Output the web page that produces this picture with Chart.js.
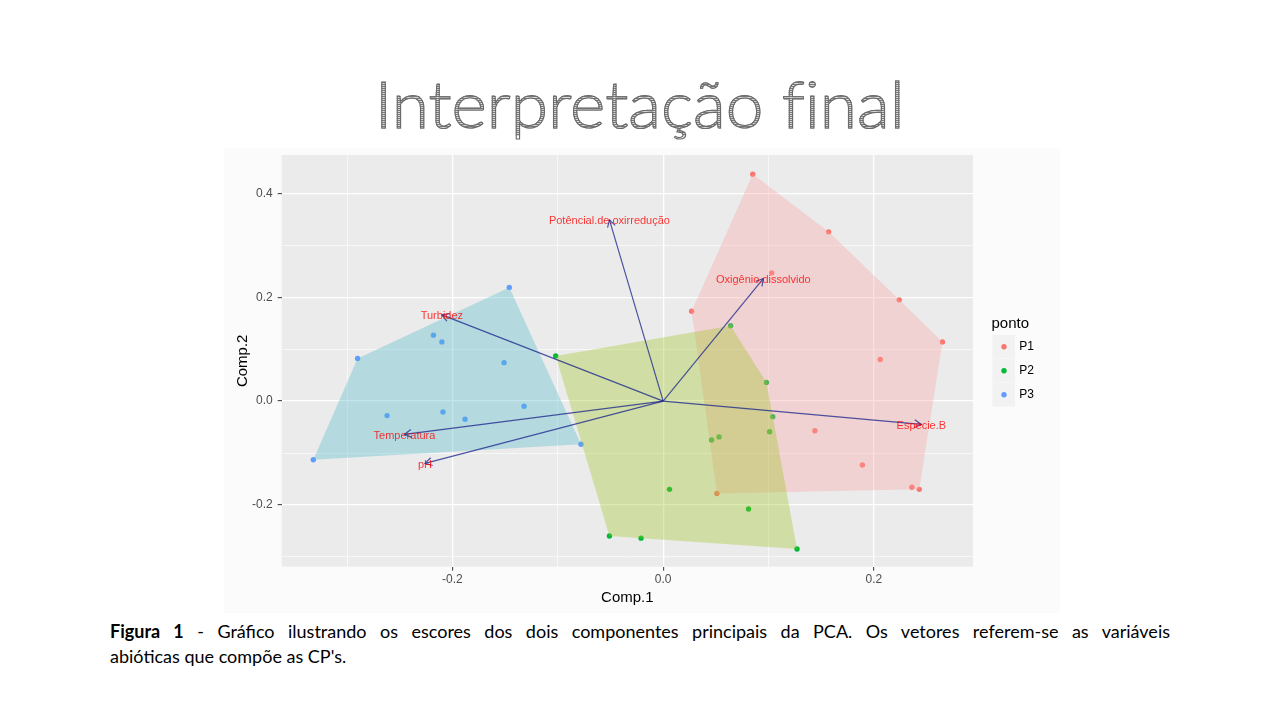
<!DOCTYPE html>
<html><head><meta charset="utf-8">
<script src="https://cdn.jsdelivr.net/npm/chart.js@4.4.1/dist/chart.umd.min.js"></script>
<style>
html,body{margin:0;padding:0;background:#fff;width:1280px;height:720px;overflow:hidden;}
#title{position:absolute;left:0;width:1280px;top:70px;text-align:center;line-height:1;}
#title span{display:inline-block;font-family:Lato,'Open Sans',sans-serif;font-size:66px;font-weight:300;font-variant-ligatures:none;
 background:repeating-linear-gradient(to bottom,#7a7a7a 0 1px,#dcdcdc 1px 2px);
 -webkit-background-clip:text;background-clip:text;color:transparent;-webkit-text-stroke:1.1px #6a6a6a;transform-origin:center;}
#box{position:absolute;left:224px;top:148px;width:836px;height:465px;background:#fbfbfb;}
#cap{position:absolute;left:110px;top:619px;width:1060px;font-family:Lato,'Open Sans',sans-serif;font-size:18px;line-height:25px;color:#000;}
#cap .l1{text-align:justify;text-align-last:justify;white-space:nowrap;}
</style></head>
<body>
<div id="title"><span id="tt">Interpretação final</span></div>
<div id="box"><canvas id="c" width="836" height="465"></canvas></div>
<div id="cap">
<div class="l1" id="l1"><b>Figura 1</b> - Gráfico ilustrando os escores dos dois componentes principais da PCA. Os vetores referem-se as variáveis</div>
<div>abióticas que compõe as CP's.</div>
</div>
<script>
// ---- data ----
const groups = ["P1","P2","P3"];
const p1X = [0.085, 0.157, 0.103, 0.027, 0.224, 0.265, 0.206, 0.144, 0.189, 0.236, 0.243, 0.051];
const p1Y = [0.437, 0.326, 0.247, 0.173, 0.195, 0.114, 0.080, -0.057, -0.123, -0.166, -0.170, -0.178];
const p2X = [-0.102, 0.064, 0.098, 0.104, 0.101, 0.046, 0.053, 0.006, 0.081, -0.051, -0.021, 0.127];
const p2Y = [0.087, 0.145, 0.036, -0.030, -0.059, -0.075, -0.069, -0.170, -0.208, -0.260, -0.264, -0.285];
const p3X = [-0.146, -0.290, -0.218, -0.210, -0.151, -0.262, -0.209, -0.188, -0.132, -0.078, -0.332];
const p3Y = [0.219, 0.082, 0.127, 0.114, 0.074, -0.028, -0.021, -0.035, -0.010, -0.083, -0.113];
const varNames = ["Potêncial.de.oxirredução","Turbidez","Oxigênio.dissolvido","Especie.B","Temperatura","pH"];
const loadX = [-0.051, -0.210, 0.095, 0.245, -0.2455, -0.226];
const loadY = [0.349, 0.166, 0.236, -0.045, -0.064, -0.120];
const xRange = [-0.362, 0.294];
const yRange = [-0.319, 0.474];

// ---- styles ----
const pointColors = ["#F8766D","#00BA38","#619CFF"];
const hullColors = ["rgba(249,164,164,0.35)","rgba(158,198,35,0.35)","rgba(78,186,204,0.35)"];
const seriesX = [p1X,p2X,p3X], seriesY = [p1Y,p2Y,p3Y];

// title fit
(function(){const s=document.getElementById('tt');const w=s.getBoundingClientRect().width;s.style.transform='scaleX('+(530/w)+')';})();

const FONT = "'Liberation Sans', Arial, sans-serif";
Chart.defaults.font.family = FONT;

function hull(pts){
  pts = pts.slice().sort((a,b)=>a.x-b.x||a.y-b.y);
  const cr=(o,a,b)=>(a.x-o.x)*(b.y-o.y)-(a.y-o.y)*(b.x-o.x);
  const lo=[],up=[];
  for(const p of pts){while(lo.length>=2&&cr(lo[lo.length-2],lo[lo.length-1],p)<=0)lo.pop();lo.push(p);}
  for(let i=pts.length-1;i>=0;i--){const p=pts[i];while(up.length>=2&&cr(up[up.length-2],up[up.length-1],p)<=0)up.pop();up.push(p);}
  lo.pop();up.pop();return lo.concat(up);
}
const isMajor = v => Math.round(v*10)%2===0;

const datasets = groups.map((g,i)=>({
  label:g,
  data: seriesX[i].map((x,j)=>({x:x,y:seriesY[i][j]})),
  backgroundColor: pointColors[i], borderColor: pointColors[i], borderWidth:0,
  pointRadius:2.7, pointHoverRadius:2.7
}));

const panelBg = {id:'panelBg', beforeDraw(ch){const {ctx,chartArea:a}=ch;ctx.save();ctx.fillStyle='#EBEBEB';ctx.fillRect(a.left,a.top,a.right-a.left,a.bottom-a.top);ctx.restore();}};

const overlay = {id:'overlay', afterDatasetsDraw(ch){
  const {ctx,chartArea:a,scales:{x:xs,y:ys}}=ch;
  ctx.save();
  ctx.beginPath();ctx.rect(a.left,a.top,a.right-a.left,a.bottom-a.top);ctx.clip();
  // hulls
  datasets.forEach((d,i)=>{
    const h=hull(d.data);
    ctx.beginPath();
    h.forEach((p,k)=>{const px=xs.getPixelForValue(p.x),py=ys.getPixelForValue(p.y);k?ctx.lineTo(px,py):ctx.moveTo(px,py);});
    ctx.closePath();ctx.fillStyle=hullColors[i];ctx.fill();
  });
  // arrows
  const ox=xs.getPixelForValue(0), oy=ys.getPixelForValue(0);
  ctx.strokeStyle='rgba(30,40,140,0.78)';ctx.lineWidth=1.2;
  varNames.forEach((n,i)=>{
    const tx=xs.getPixelForValue(loadX[i]),ty=ys.getPixelForValue(loadY[i]);
    ctx.beginPath();ctx.moveTo(ox,oy);ctx.lineTo(tx,ty);ctx.stroke();
    const ang=Math.atan2(ty-oy,tx-ox),L=8,sp=Math.PI/6;
    ctx.beginPath();
    ctx.moveTo(tx-L*Math.cos(ang-sp),ty-L*Math.sin(ang-sp));ctx.lineTo(tx,ty);
    ctx.lineTo(tx-L*Math.cos(ang+sp),ty-L*Math.sin(ang+sp));ctx.stroke();
  });
  // labels
  ctx.font='11px '+FONT;ctx.textAlign='center';ctx.textBaseline='middle';ctx.fillStyle='rgba(255,0,0,0.78)';
  varNames.forEach((n,i)=>{ctx.fillText(n,xs.getPixelForValue(loadX[i]),ys.getPixelForValue(loadY[i])+1.5);});
  ctx.restore();
}};

const legendP = {id:'legendP', afterDraw(ch){
  const ctx=ch.ctx;ctx.save();
  ctx.font='15px '+FONT;ctx.fillStyle='#000';ctx.textAlign='left';ctx.textBaseline='middle';
  ctx.fillText('ponto',767.5,176);
  ctx.font='12px '+FONT;
  groups.forEach((g,i)=>{
    const top=187+i*24;
    ctx.fillStyle='#F2F2F2';ctx.fillRect(768.3,top,22.7,23.5);
    ctx.beginPath();ctx.arc(780,top+11.8,2.7,0,Math.PI*2);ctx.fillStyle=pointColors[i];ctx.fill();
    ctx.fillStyle='#000';ctx.fillText(g,795.3,top+12);
  });
  ctx.restore();
}};

const gridOpts = {
  color:'#FFFFFF',
  lineWidth: c => (c.tick && isMajor(c.tick.value)) ? 1.3 : 0.6,
  tickColor: c => (c.tick && isMajor(c.tick.value)) ? '#333333' : 'rgba(0,0,0,0)',
  tickWidth:1, tickLength:4, drawTicks:true
};
const tickCb = v => isMajor(v) ? (Math.abs(v)<1e-9 ? '0.0' : v.toFixed(1)) : '';

new Chart(document.getElementById('c'),{
  type:'scatter',
  data:{datasets},
  options:{
    responsive:false, animation:false, events:[],
    layout:{padding:{top:7,right:87,left:0,bottom:0}},
    plugins:{legend:{display:false},tooltip:{enabled:false}},
    scales:{
      x:{type:'linear',min:xRange[0],max:xRange[1],
        grid:gridOpts,border:{display:false},
        ticks:{stepSize:0.1,includeBounds:false,autoSkip:false,maxRotation:0,callback:tickCb,color:'#4D4D4D',font:{size:12},padding:2},
        title:{display:true,text:'Comp.1',color:'#000',font:{size:15},padding:{top:0,bottom:6}},
        afterFit(s){s.height=46.3;s.paddingLeft=0;s.paddingRight=0;}
      },
      y:{type:'linear',min:yRange[0],max:yRange[1],
        grid:gridOpts,border:{display:false},
        ticks:{stepSize:0.1,includeBounds:false,autoSkip:false,callback:tickCb,color:'#4D4D4D',font:{size:12},padding:5},
        title:{display:true,text:'Comp.2',color:'#000',font:{size:15},padding:{top:10,bottom:0}},
        afterFit(s){s.width=57.7;s.paddingTop=0;s.paddingBottom=0;}
      }
    }
  },
  plugins:[panelBg,overlay,legendP]
});
</script>
</body></html>
